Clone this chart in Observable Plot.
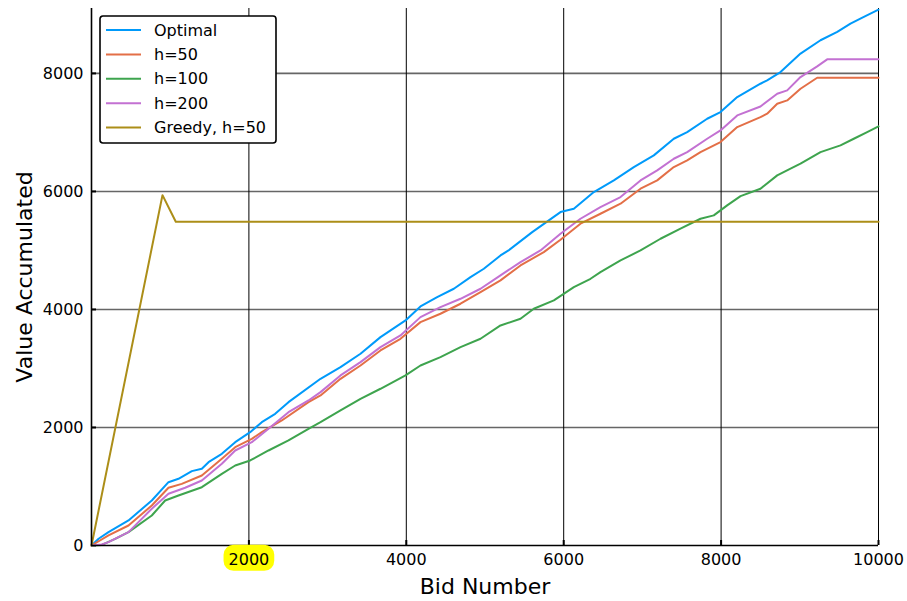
<!DOCTYPE html>
<html><head><meta charset="utf-8">
<script src="https://cdn.jsdelivr.net/npm/d3@7"></script>
<script src="https://cdn.jsdelivr.net/npm/@observablehq/plot@0.6"></script>
<style>
body{margin:0;background:#fff}
svg{font-family:"DejaVu Sans",sans-serif}
</style>
</head><body><div id="chart"></div>
<script>
const seriesNames = ["Optimal", "h=50", "h=100", "h=200", "Greedy, h=50"];
const seriesColors = ["#009AFA", "#E36F47", "#3EA44E", "#C371D2", "#AC8E18"];
const xTicks = [2000, 4000, 6000, 8000, 10000];
const yTicks = [0, 2000, 4000, 6000, 8000];
const highlightedXTick = 2000;
const xLabel = "Bid Number";
const yLabel = "Value Accumulated";

const optimal = [[0,0],[90,115],[216,226],[470,424],[766,763],[978,1073],[1105,1130],[1275,1260],[1402,1300],[1487,1412],[1656,1554],[1826,1751],[2016,1921],[2164,2090],[2334,2232],[2503,2429],[2910,2825],[3164,3022],[3418,3249],[3672,3531],[3990,3814],[4180,4051],[4392,4209],[4604,4351],[4816,4548],[4985,4690],[5197,4915],[5299,5000],[5600,5310],[5959,5650],[6129,5707],[6383,5989],[6637,6187],[6891,6413],[7145,6611],[7399,6893],[7569,7006],[7823,7232],[7992,7345],[8205,7599],[8500,7825],[8585,7882],[8755,8023],[9009,8336],[9263,8562],[9476,8703],[9644,8844],[9814,8957],[10000,9080]];
const h50 = [[0,0],[216,170],[470,339],[766,678],[978,978],[1147,1045],[1402,1187],[1656,1469],[1826,1666],[2037,1808],[2164,1921],[2418,2119],[2757,2429],[2910,2543],[3164,2825],[3418,3051],[3672,3305],[3926,3503],[4180,3785],[4434,3927],[4689,4097],[4943,4294],[5197,4492],[5451,4746],[5747,4972],[5959,5182],[6213,5453],[6467,5622],[6722,5792],[6976,6046],[7188,6187],[7399,6413],[7569,6526],[7738,6667],[7992,6837],[8205,7091],[8500,7260],[8585,7317],[8713,7486],[8840,7543],[9009,7740],[9221,7926],[10000,7926]];
const h100 = [[0,0],[131,10],[301,113],[470,226],[766,508],[936,763],[1105,847],[1402,988],[1656,1215],[1826,1356],[2016,1441],[2249,1610],[2503,1780],[2757,1978],[2910,2090],[3164,2288],[3418,2486],[3672,2656],[3990,2882],[4180,3051],[4434,3193],[4689,3362],[4943,3503],[5197,3729],[5451,3842],[5620,4012],[5875,4153],[6129,4378],[6341,4520],[6467,4633],[6722,4831],[6976,5000],[7230,5198],[7484,5368],[7738,5537],[7907,5594],[8077,5763],[8247,5920],[8500,6046],[8713,6272],[8882,6385],[9009,6470],[9263,6667],[9517,6780],[9686,6893],[9856,7006],[10000,7102]];
const h200 = [[0,0],[131,17],[216,57],[470,226],[766,622],[978,876],[1190,978],[1402,1102],[1656,1385],[1826,1610],[2037,1751],[2249,1978],[2503,2259],[2757,2458],[2910,2599],[3164,2882],[3418,3108],[3672,3362],[3926,3560],[4180,3870],[4434,4039],[4689,4181],[4943,4351],[5197,4577],[5451,4803],[5705,5000],[5959,5284],[6213,5537],[6467,5735],[6722,5904],[6976,6187],[7188,6356],[7399,6554],[7569,6667],[7823,6893],[7992,7034],[8205,7288],[8500,7440],[8713,7656],[8840,7712],[9009,7938],[9221,8119],[9348,8238],[10000,8238]];
const greedy = [[0,0],[902,5937],[1071,5487],[10000,5487]];

const seriesValues = [optimal, h50, h100, h200, greedy];
const data = seriesValues.flatMap((pts, i) => pts.map(([x, y]) => ({series: seriesNames[i], x, y})));

const W = 907, H = 601, ML = 91, MR = 29, MT = 8, MB = 56;
const tickLenX = 5 * 10000 / (W - ML - MR);
const tickLenY = 5 * 9100 / (H - MT - MB);

const chart = Plot.plot({
  width: W, height: H,
  marginLeft: ML, marginRight: MR, marginTop: MT, marginBottom: MB,
  style: {fontFamily: "DejaVu Sans, sans-serif", fontSize: "16px", background: "#fff", color: "#000"},
  x: {domain: [0, 10000]},
  y: {domain: [0, 9100]},
  color: {domain: seriesNames, range: seriesColors},
  marks: [
    Plot.ruleY(yTicks.filter(d => d > 0), {stroke: "#666", strokeWidth: 1.6}),
    Plot.ruleX(xTicks, {stroke: "#000", strokeWidth: 1}),
    Plot.ruleY(yTicks, {x1: 0, x2: tickLenX, stroke: "#000", strokeWidth: 2}),
    Plot.ruleX(xTicks, {y1: 0, y2: tickLenY, stroke: "#000", strokeWidth: 2}),
    Plot.line(data, {x: "x", y: "y", z: "series", stroke: "series", strokeWidth: 2}),
    Plot.ruleX([0], {stroke: "#000", strokeWidth: 1.6}),
    Plot.ruleY([0], {stroke: "#000", strokeWidth: 1.6}),
    Plot.axisX({ticks: xTicks, tickSize: 0, tickPadding: 8, label: null, fontSize: 16, tickFormat: d => String(d)}),
    Plot.axisY({ticks: yTicks, tickSize: 0, tickPadding: 8, label: null, fontSize: 16, tickFormat: d => String(d)}),
    Plot.text([xLabel], {frameAnchor: "bottom", dy: 41, lineAnchor: "middle", fontSize: 22, fill: "#000"}),
    Plot.text([yLabel], {frameAnchor: "left", dx: -67, rotate: -90, lineAnchor: "middle", textAnchor: "middle", fontSize: 22, fill: "#000"})
  ]
});
document.getElementById("chart").appendChild(chart);

const svg = d3.select(chart);
// highlight x tick label
svg.selectAll('g[aria-label="x-axis tick label"] text').each(function() {
  if (this.textContent.replace(/,/g, "") === String(highlightedXTick)) {
    const b = this.getBBox();
    const rect = document.createElementNS("http://www.w3.org/2000/svg", "rect");
    const tr = this.getAttribute("transform");
    if (tr) rect.setAttribute("transform", tr);
    rect.setAttribute("x", b.x - 5);
    rect.setAttribute("width", b.width + 10);
    rect.setAttribute("y", b.y - 5);
    rect.setAttribute("height", b.height + 7);
    rect.setAttribute("rx", 10);
    rect.setAttribute("fill", "#FFFF00");
    this.parentNode.insertBefore(rect, this);
  }
});

// legend
const lg = svg.append("g").attr("transform", `translate(${ML + 9},${MT + 8})`);
lg.append("rect").attr("x", 0).attr("y", 0).attr("width", 176).attr("height", 127)
  .attr("rx", 3).attr("fill", "#fff").attr("stroke", "#000").attr("stroke-width", 1.6);
seriesNames.forEach((name, i) => {
  const yy = 14 + i * 24.4;
  lg.append("line").attr("x1", 6).attr("x2", 41).attr("y1", yy).attr("y2", yy)
    .attr("stroke", seriesColors[i]).attr("stroke-width", 2);
  lg.append("text").attr("x", 54).attr("y", yy).attr("dy", "0.35em")
    .attr("text-anchor", "start")
    .attr("font-size", 16).attr("fill", "#000").text(name);
});
</script>
</body></html>
